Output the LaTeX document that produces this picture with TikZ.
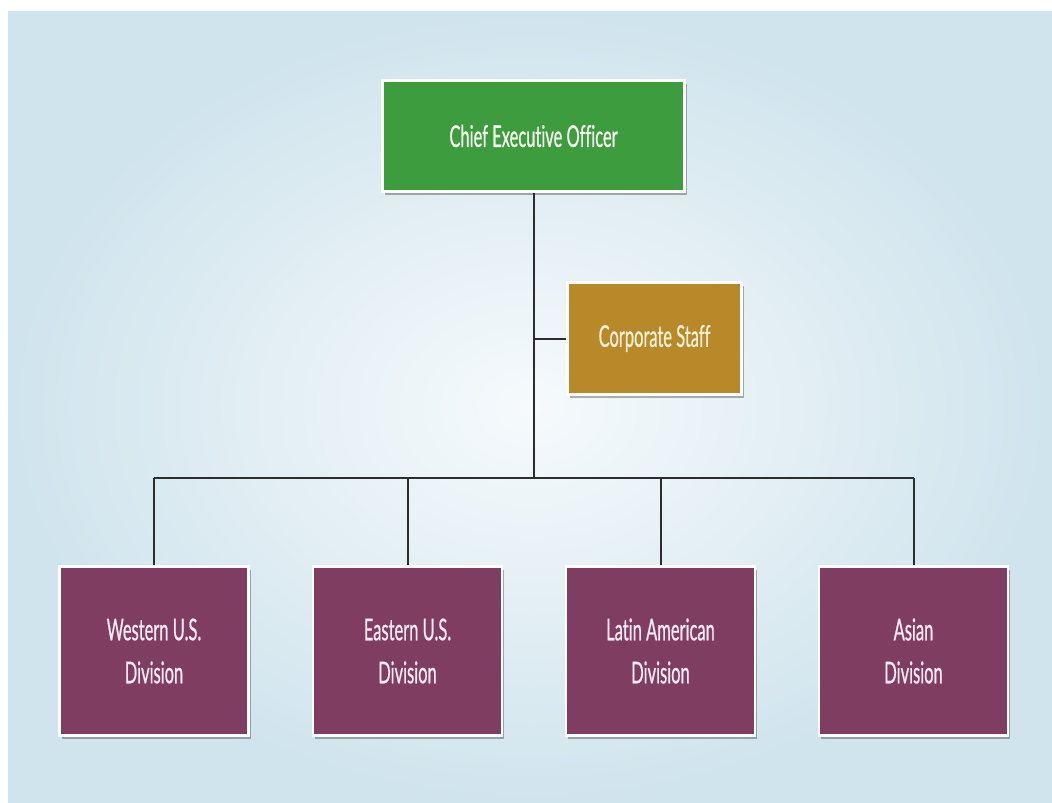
\documentclass[tikz,border=0pt]{standalone}
\usepackage{fontspec}
\setmainfont{Lato}[FakeStretch=0.55,FakeBold=0.6,Ligatures=NoCommon]
\usetikzlibrary{shadows}
\definecolor{ceogreen}{RGB}{61,156,61}
\definecolor{staffgold}{RGB}{184,137,40}
\definecolor{divpurple}{RGB}{127,61,98}
\definecolor{linegray}{RGB}{45,45,45}
\definecolor{bgouter}{RGB}{208,228,237}
\definecolor{bginner}{RGB}{246,250,252}
\begin{document}
\begin{tikzpicture}[x=1pt,y=-1pt,
  box/.style={draw=white,line width=2.5pt,inner sep=0pt,align=center,
    font=\fontsize{30}{43}\selectfont,
    drop shadow={shadow xshift=2pt,shadow yshift=-3pt,opacity=0.3,fill=black}},
  ceobox/.style={box,fill=ceogreen,text={rgb,255:red,246;green,250;blue,240},minimum width=302pt,minimum height=111pt},
  staffbox/.style={box,fill=staffgold,text={rgb,255:red,250;green,240;blue,218},minimum width=174pt,minimum height=112pt},
  divbox/.style={box,fill=divpurple,text={rgb,255:red,248;green,234;blue,242},minimum width=189pt,minimum height=169pt},
  conn/.style={draw=linegray,line width=2pt}]
\useasboundingbox (0,0) rectangle (1052,803);
\fill[white] (0,0) rectangle (1052,803);
\shade[inner color=bginner,outer color=bgouter] (8,11) rectangle (1052,803);

\node[ceobox] (ceo) at (533.5,136) {Chief Executive Officer};
\node[staffbox] (staff) at (654.5,338.5) {Corporate Staff};
\node[divbox] (west) at (154,651) {Western U.S.\\Division};
\node[divbox] (east) at (407.5,651) {Eastern U.S.\\Division};
\node[divbox] (latin) at (660.5,651) {Latin American\\Division};
\node[divbox] (asia) at (913.5,651) {Asian\\Division};

\coordinate (bus) at (533.5,478);
\draw[conn] (ceo.south) -- (ceo.south |- bus);
\draw[conn] (ceo.south |- staff.west) -- (staff.west);
\draw[conn] (west.north |- bus) -- (asia.north |- bus);
\draw[conn] (west.north |- bus) -- (west.north);
\draw[conn] (east.north |- bus) -- (east.north);
\draw[conn] (latin.north |- bus) -- (latin.north);
\draw[conn] (asia.north |- bus) -- (asia.north);
\end{tikzpicture}
\end{document}
